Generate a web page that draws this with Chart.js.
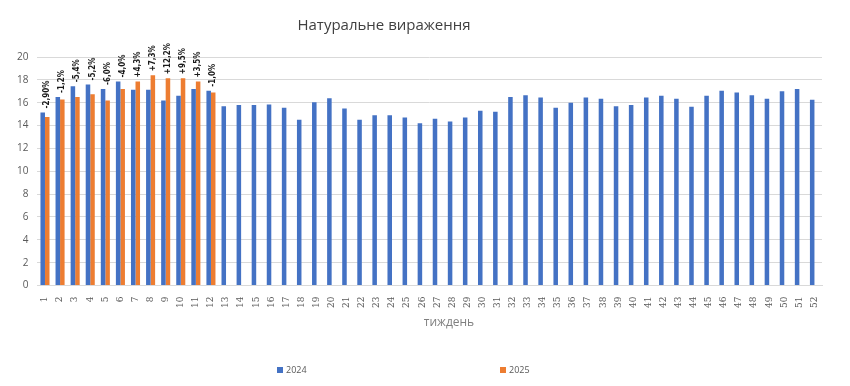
<!DOCTYPE html>
<html lang="uk">
<head>
    <meta charset="UTF-8">
    <title>Натуральне вираження</title>
    <script src="https://cdn.jsdelivr.net/npm/chart.js"></script>
    <style>
        body { margin: 0; background: #fff; }
        #wrap { width: 850px; height: 386px; }
    </style>
</head>
<body>
<div id="wrap"><canvas id="weekChart" width="850" height="386"></canvas></div>
<script>
    const weeks = [];
    for (let w = 1; w <= 52; w++) weeks.push(String(w));

    const values2024 = [
        15.15, 16.5, 17.45, 17.6, 17.2, 17.85, 17.13, 17.13, 16.2, 16.6, 17.2, 17.05,
        15.7, 15.8, 15.8, 15.85, 15.55, 14.5, 16.05, 16.4, 15.5, 14.5, 14.9, 14.9,
        14.7, 14.2, 14.6, 14.35, 14.7, 15.3, 15.2, 16.5, 16.65, 16.45, 15.55, 16.0,
        16.45, 16.35, 15.7, 15.8, 16.45, 16.6, 16.35, 15.65, 16.6, 17.05, 16.9, 16.65,
        16.35, 17.0, 17.2, 16.25
    ];
    const values2025 = [
        14.75, 16.27, 16.5, 16.75, 16.2, 17.2, 17.85, 18.4, 18.15, 18.15, 17.85, 16.9
    ];
    const changeLabels = [
        '-2,90%', '-1,2%', '-5,4%', '-5,2%', '-6,0%', '-4,0%',
        '+4,3%', '+7,3%', '+12,2%', '+9,5%', '+3,5%', '-1,0%'
    ];

    const blue = '#4472C4';
    const orange = '#ED7D31';
    const grey = '#595959';

    // title, axis title, percent labels and the spread-out legend
    const extras = {
        id: 'extras',
        afterDatasetsDraw(chart) {
            const ctx = chart.ctx;
            const a = chart.getDatasetMeta(0).data;
            const b = chart.getDatasetMeta(1).data;
            ctx.save();
            ctx.fillStyle = '#1a1a1a';
            ctx.font = 'bold 8px "DejaVu Sans Condensed", "Liberation Sans", sans-serif';
            ctx.textAlign = 'left';
            ctx.textBaseline = 'middle';
            changeLabels.forEach((txt, i) => {
                const top = Math.min(a[i].y, b[i].y);
                ctx.save();
                ctx.translate(b[i].x, top - 4);
                ctx.rotate(-Math.PI / 2);
                ctx.fillText(txt, 0, 0);
                ctx.restore();
            });
            ctx.restore();
        },
        afterDraw(chart) {
            const ctx = chart.ctx;
            ctx.save();
            ctx.fillStyle = '#404040';
            ctx.font = '15px "Open Sans", sans-serif';
            ctx.textAlign = 'center';
            ctx.textBaseline = 'middle';
            ctx.fillText('Натуральне вираження', 384, 26);

            ctx.fillStyle = '#7f7f7f';
            ctx.font = '12px "Open Sans", sans-serif';
            ctx.fillText('тиждень', 449, 323);

            ctx.font = '9px "Open Sans", sans-serif';
            ctx.textAlign = 'left';
            const spots = [277, 500];
            chart.data.datasets.forEach((ds, i) => {
                ctx.fillStyle = ds.backgroundColor;
                ctx.fillRect(spots[i], 367, 6, 6);
                ctx.fillStyle = grey;
                ctx.fillText(ds.label, spots[i] + 9, 370.5);
            });
            ctx.restore();
        }
    };

    new Chart(document.getElementById('weekChart'), {
        type: 'bar',
        data: {
            labels: weeks,
            datasets: [
                { label: '2024', data: values2024, backgroundColor: blue },
                { label: '2025', data: values2025, backgroundColor: orange }
            ]
        },
        options: {
            responsive: false,
            animation: false,
            layout: { padding: { top: 57, right: 28, bottom: 75, left: 8 } },
            datasets: { bar: { categoryPercentage: 0.6, barPercentage: 1.0 } },
            plugins: {
                legend: { display: false },
                title: { display: false },
                tooltip: { enabled: false }
            },
            scales: {
                x: {
                    grid: { display: false },
                    border: { color: '#d9d9d9' },
                    ticks: {
                        color: grey,
                        font: { size: 9, family: '"DejaVu Serif", serif' },
                        minRotation: 90,
                        maxRotation: 90,
                        autoSkip: false,
                        padding: 3
                    }
                },
                y: {
                    min: 0,
                    max: 20,
                    grid: { color: '#d9d9d9', drawTicks: false },
                    border: { display: false },
                    ticks: {
                        stepSize: 2,
                        color: grey,
                        font: { size: 10, family: '"Open Sans", sans-serif' },
                        padding: 9
                    }
                }
            }
        },
        plugins: [extras]
    });
</script>
</body>
</html>
